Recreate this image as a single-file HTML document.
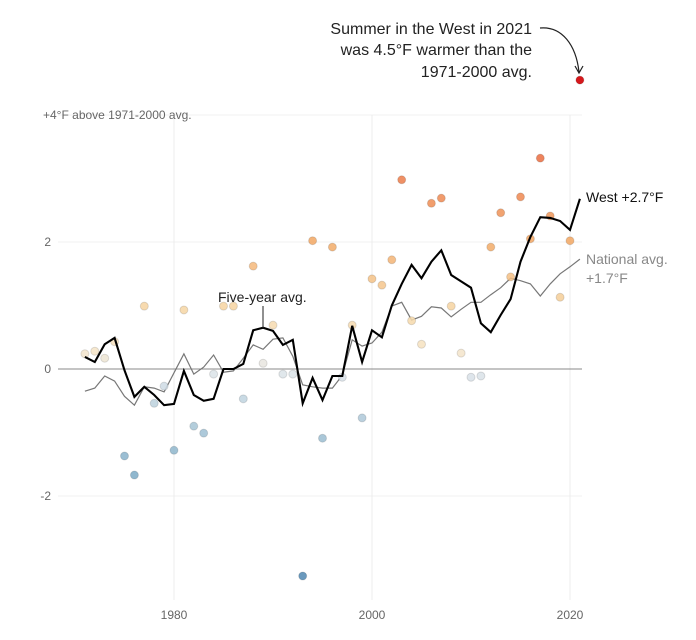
<!DOCTYPE html>
<html><head><meta charset="utf-8"><style>
html,body{margin:0;padding:0;background:#fff;width:696px;height:640px;overflow:hidden}
svg{font-family:"Liberation Sans",sans-serif;display:block}
</style></head><body>
<svg id="chart" width="696" height="640">
<g id="grid"></g>
<g id="lines"></g>
<g id="dots"></g>
<g id="labels">
<text x="43" y="119" font-size="12" fill="#666">+4°F above 1971-2000 avg.</text>
<g text-anchor="end" font-size="16" fill="#222">
<text x="532" y="34">Summer in the West in 2021</text>
<text x="532" y="55">was 4.5°F warmer than the</text>
<text x="532" y="77">1971-2000 avg.</text>
</g>
<path d="M540,28 C562,26 576,45 579,72" fill="none" stroke="#222" stroke-width="1.2"/>
<path d="M575,66 L579,73 L583,66" fill="none" stroke="#222" stroke-width="1.2"/>
<text x="218" y="302" font-size="14" fill="#222">Five-year avg.</text>
<line x1="263" y1="306" x2="263" y2="328" stroke="#222" stroke-width="1"/>
<text x="586" y="202" font-size="14" fill="#111">West +2.7°F</text>
<text x="586" y="264" font-size="14" fill="#888">National avg.</text>
<text x="586" y="283" font-size="14" fill="#888">+1.7°F</text>
</g>
</svg>
<script>
const years=[];for(let y=1971;y<=2021;y++)years.push(y);
const annual=[0.24,0.28,0.17,0.43,-1.37,-1.67,0.99,-0.54,-0.27,-1.28,0.93,-0.9,-1.01,-0.08,0.99,0.99,-0.47,1.62,0.09,0.69,-0.08,-0.08,-3.26,2.02,-1.09,1.92,-0.13,0.69,-0.77,1.42,1.32,1.72,2.98,0.76,0.39,2.61,2.69,0.99,0.25,-0.13,-0.11,1.92,2.46,1.45,2.71,2.05,3.32,2.41,1.13,2.02,4.55];
const fiveYear=[0.19,0.11,0.39,0.49,-0.02,-0.44,-0.28,-0.41,-0.57,-0.55,-0.03,-0.41,-0.5,-0.47,0,0,0.08,0.61,0.65,0.6,0.38,0.46,-0.54,-0.14,-0.49,-0.11,-0.11,0.68,0.11,0.61,0.5,1.0,1.34,1.64,1.43,1.69,1.87,1.48,1.38,1.28,0.72,0.58,0.85,1.1,1.69,2.08,2.39,2.38,2.33,2.19,2.68];
const national=[-0.35,-0.3,-0.11,-0.19,-0.43,-0.57,-0.28,-0.3,-0.36,-0.06,0.24,-0.08,0.03,0.22,-0.05,-0.03,0.17,0.38,0.31,0.47,0.49,0.2,-0.25,-0.28,-0.3,-0.3,-0.1,0.46,0.36,0.41,0.58,0.99,1.05,0.77,0.83,0.98,0.96,0.82,0.94,1.05,1.05,1.17,1.28,1.43,1.39,1.34,1.15,1.34,1.5,1.61,1.73];
const yTicks=[2,0,-2];
const xTicks=[1980,2000,2020];
const NS="http://www.w3.org/2000/svg";
const X=y=>174+(y-1980)*9.9;
const Y=v=>369-v*63.5;
function mk(tag,attrs,parent){const e=document.createElementNS(NS,tag);for(const k in attrs)e.setAttribute(k,attrs[k]);parent.appendChild(e);return e;}
const grid=document.getElementById('grid');
[4,2,-2].forEach(v=>{const l=mk('line',{x1:58,x2:582,y1:Y(v),y2:Y(v),stroke:'#f0f0f0','stroke-width':1},grid);

});
xTicks.forEach(t=>{const l=mk('line',{x1:X(t),x2:X(t),y1:Y(4),y2:600,stroke:'#ececec','stroke-width':1},grid);


const tx=mk('text',{x:X(t),y:619,'text-anchor':'middle','font-size':12,fill:'#666'},grid);tx.textContent=t;

});
yTicks.forEach(t=>{const tx=mk('text',{x:51,y:Y(t)+4,'text-anchor':'end','font-size':12,fill:'#666'},grid);tx.textContent=t;

});
const zl=mk('line',{x1:58,x2:582,y1:Y(0),y2:Y(0),stroke:'#888','stroke-width':1},grid);


const lines=document.getElementById('lines');
function path(arr){return arr.map((v,i)=>(i?'L':'M')+X(years[i]).toFixed(1)+','+Y(v).toFixed(1)).join('');}
const nl=mk('path',{d:path(national),fill:'none',stroke:'#777','stroke-width':1.2},lines);


function col(v){
 const stops=[[-3.3,[79,134,176]],[-1.5,[130,174,200]],[-0.5,[190,210,222]],[0,[225,230,234]],[0.3,[246,228,196]],[1,[246,212,160]],[2,[242,168,100]],[3.3,[234,110,66]],[4.5,[214,24,28]]];
 if(v<=stops[0][0])return 'rgb('+stops[0][1]+')';
 for(let i=1;i<stops.length;i++){if(v<=stops[i][0]){const a=stops[i-1],b=stops[i],t=(v-a[0])/(b[0]-a[0]);return 'rgb('+a[1].map((c,j)=>Math.round(c+(b[1][j]-c)*t)).join(',')+')';}}
 return 'rgb(214,24,28)';}
const dots=document.getElementById('dots');
annual.forEach((v,i)=>{const c=mk('circle',{cx:X(years[i]),cy:Y(v),r:4,fill:col(v),'fill-opacity':v>4?1:0.85,stroke:'rgba(0,0,0,0.12)','stroke-width':1},dots);

});
const wl=mk('path',{d:path(fiveYear),fill:'none',stroke:'#000','stroke-width':2.1,'stroke-linejoin':'miter'},dots);


</script>
</body></html>
